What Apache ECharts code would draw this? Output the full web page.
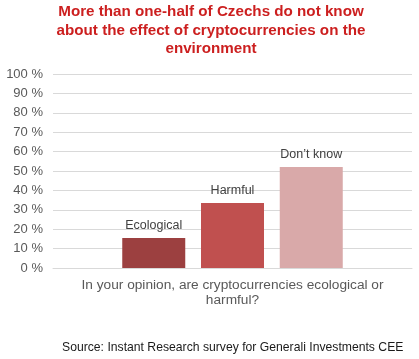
<!DOCTYPE html>
<html><head><meta charset="utf-8">
<script src="https://cdn.jsdelivr.net/npm/echarts@6/dist/echarts.min.js"></script>
<style>html,body{margin:0;padding:0;background:#fff}#c{width:419px;height:359px}</style>
</head><body><div id="c"></div>
<script>
const categories = ['In your opinion, are cryptocurrencies ecological or\nharmful?'];
const seriesNames = ['Ecological', 'Harmful', 'Don\u2019t know'];
const seriesValues = [15.5, 33.5, 52];
const seriesColors = ['#9c4040', '#c0504f', '#d9a9a9'];
const yTicks = [0, 10, 20, 30, 40, 50, 60, 70, 80, 90, 100];

const chart = echarts.init(document.getElementById('c'), null, {renderer: 'canvas'});
const font = 'Arial, "Liberation Sans", sans-serif';
chart.setOption({
  animation: false,
  title: [
    {
      text: 'More than one-half of Czechs do not know\nabout the effect of cryptocurrencies on the\nenvironment',
      left: 211, textAlign: 'center', top: 3, padding: 0,
      textStyle: {color: '#cc1f1f', fontSize: 15.2, fontWeight: 'bold', fontFamily: font, lineHeight: 18.5}
    },
    {
      text: 'Source: Instant Research survey for Generali Investments CEE',
      left: 62, top: 342, padding: 0,
      textStyle: {color: '#1a1a1a', fontSize: 12.2, fontWeight: 'normal', fontFamily: font}
    }
  ],
  grid: {left: 53, right: 7, top: 74, bottom: 91},
  xAxis: {
    type: 'category', data: categories,
    axisTick: {show: false}, axisLabel: {show: false},
    axisLine: {lineStyle: {color: '#d9d9d9'}},
    name: categories[0], nameLocation: 'middle', nameGap: 10,
    nameTextStyle: {color: '#595959', fontSize: 13.7, fontFamily: font, lineHeight: 15, verticalAlign: 'top'}
  },
  yAxis: {
    type: 'value', min: yTicks[0], max: yTicks[yTicks.length - 1], interval: 10,
    axisLine: {show: false}, axisTick: {show: false},
    axisLabel: {color: '#595959', fontSize: 13, fontFamily: font, margin: 10, formatter: v => v + ' %'},
    splitLine: {lineStyle: {color: '#d9d9d9'}}
  },
  series: seriesNames.map((n, i) => ({
    name: n, type: 'bar', barWidth: 63, barGap: '25%',
    data: [seriesValues[i]],
    itemStyle: {color: seriesColors[i]},
    label: {show: true, position: 'top', distance: 6, formatter: n, color: '#404040', fontSize: 12.5, fontFamily: font}
  }))
});
</script></body></html>
